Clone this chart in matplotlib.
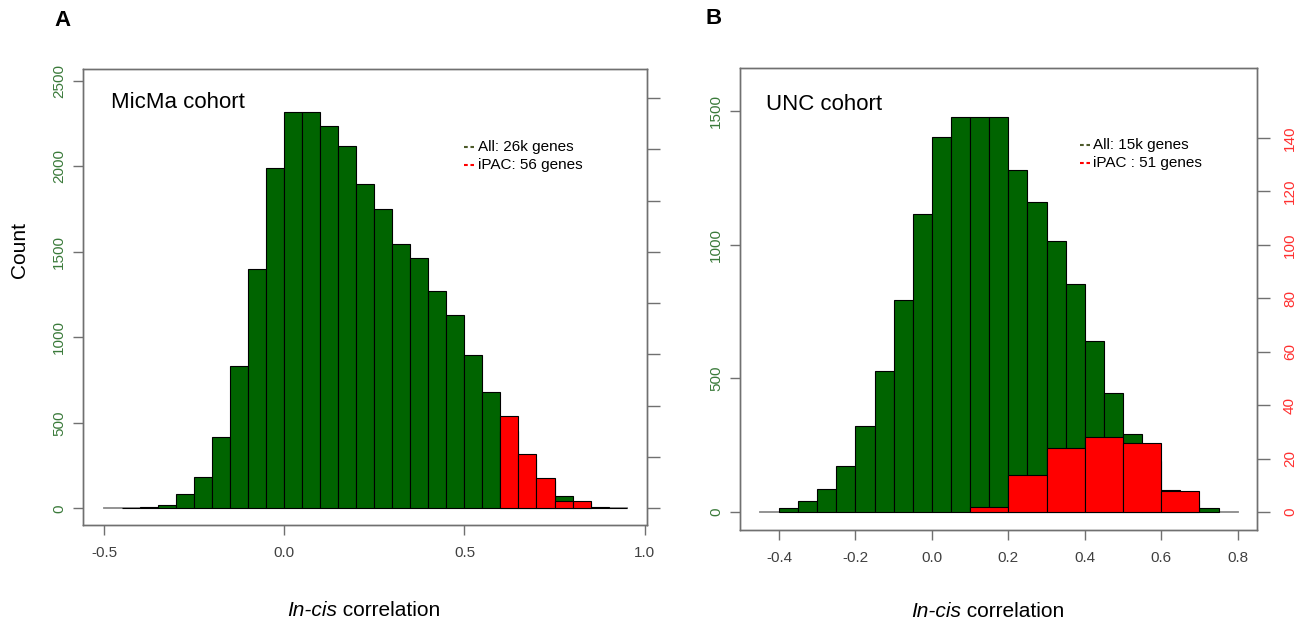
import numpy as np
import matplotlib
matplotlib.use('Agg')
import matplotlib.pyplot as plt
from matplotlib.lines import Line2D

plt.rcParams['font.family'] = ['Liberation Sans', 'DejaVu Sans']
plt.rcParams['axes.unicode_minus'] = False

# ---- panel A: MicMa cohort (bins of 0.05) ----
micma_edges = [-0.50, -0.45, -0.40, -0.35, -0.30, -0.25, -0.20, -0.15, -0.10, -0.05,
               0.00, 0.05, 0.10, 0.15, 0.20, 0.25, 0.30, 0.35, 0.40, 0.45,
               0.50, 0.55, 0.60, 0.65, 0.70, 0.75, 0.80, 0.85, 0.90, 0.95]
micma_all = [0, 3, 5, 21, 84, 183, 416, 831, 1401, 1990,
             2319, 2319, 2239, 2119, 1899, 1751, 1547, 1463, 1274, 1128,
             899, 678, 450, 290, 160, 72, 30, 8, 3]
micma_ipac_edges = [0.60, 0.65, 0.70, 0.75, 0.80, 0.85]
micma_ipac = [27, 16, 9, 2, 2]

# ---- panel B: UNC cohort ----
unc_edges = [-0.45, -0.40, -0.35, -0.30, -0.25, -0.20, -0.15, -0.10, -0.05, 0.00,
             0.05, 0.10, 0.15, 0.20, 0.25, 0.30, 0.35, 0.40, 0.45, 0.50,
             0.55, 0.60, 0.65, 0.70, 0.75, 0.80]
unc_all = [0, 15, 40, 86, 172, 323, 528, 793, 1117, 1405,
           1477, 1477, 1477, 1280, 1160, 1015, 855, 640, 445, 291,
           190, 81, 45, 15, 0]
unc_ipac_edges = [0.1, 0.2, 0.3, 0.4, 0.5, 0.6, 0.7]
unc_ipac = [2, 14, 24, 28, 26, 8]

micma_xticks = [-0.5, 0.0, 0.5, 1.0]
micma_xlabels = ['-0.5', '0.0', '0.5', '1.0']
micma_yticks = [0, 500, 1000, 1500, 2000, 2500]
micma_y2ticks = [0, 15, 30, 45, 60, 75, 90, 105, 120]

unc_xticks = [-0.4, -0.2, 0.0, 0.2, 0.4, 0.6, 0.8]
unc_xlabels = ['-0.4', '-0.2', '0.0', '0.2', '0.4', '0.6', '0.8']
unc_yticks = [0, 500, 1000, 1500]
unc_y2ticks = [0, 20, 40, 60, 80, 100, 120, 140]

GREEN = '#006400'
RED = '#ff0000'
GREY = '#707070'
W, H = 1302, 624

fig = plt.figure(figsize=(W / 100, H / 100), dpi=100)


def px_axes(x0, y0, x1, y1):
    return fig.add_axes([x0 / W, 1 - y1 / H, (x1 - x0) / W, (y1 - y0) / H])


def hist_panel(ax, edges, counts, red_edges, red_counts, xlim, ylim, scale,
               xticks, xlabels, yticks, y2ticks, show_y2labels, y2pad):
    edges = np.array(edges)
    counts = np.array(counts)
    ax.plot([edges[0], edges[-1]], [0, 0], color='#8a8a8a', lw=1.3, zorder=0.5)
    keep = counts > 0
    ax.bar(edges[:-1][keep], counts[keep], width=np.diff(edges)[keep], align='edge',
           color=GREEN, edgecolor='black', linewidth=0.8, zorder=1)
    ax.set_xlim(xlim)
    ax.set_ylim(ylim)
    ax.set_xticks(xticks)
    ax.set_xticklabels(xlabels)
    ax.set_yticks(yticks)
    ax.tick_params(axis='x', length=7, width=1, color=GREY, labelcolor='#404040',
                   labelsize=11, pad=8)
    ax.tick_params(axis='y', length=7, width=1, color=GREY, labelcolor='#3a7a3a',
                   labelsize=11, pad=5, labelrotation=90)
    for lab in ax.get_yticklabels():
        lab.set_va('center')

    ax2 = ax.twinx()
    ax2.bar(red_edges[:-1], red_counts, width=np.diff(red_edges), align='edge',
            color=RED, edgecolor='black', linewidth=0.8)
    ax2.set_ylim(ylim[0] / scale, ylim[1] / scale)
    ax2.set_yticks(y2ticks)
    ax2.tick_params(axis='y', length=9, width=1, color=GREY, labelcolor='#ff3030',
                    labelsize=11, pad=y2pad, labelrotation=90,
                    labelright=show_y2labels)
    for lab in ax2.get_yticklabels():
        lab.set_va('center')
    for a in (ax, ax2):
        for sp in a.spines.values():
            sp.set_color(GREY)
            sp.set_linewidth(1)
    return ax2


ax_a = px_axes(82.7, 69.3, 646.7, 525)
hist_panel(ax_a, micma_edges, micma_all, micma_ipac_edges, micma_ipac,
           (-0.56, 1.006), (-97.7, 2568), 20,
           micma_xticks, micma_xlabels, micma_yticks, micma_y2ticks, False, 6)

ax_b = px_axes(740, 68.3, 1256.7, 530)
hist_panel(ax_b, unc_edges, unc_all, unc_ipac_edges, unc_ipac,
           (-0.502, 0.8497), (-67.4, 1661), 10,
           unc_xticks, unc_xlabels, unc_yticks, unc_y2ticks, True, 10)


def ftext(x, y, s, **kw):
    return fig.text(x / W, 1 - y / H, s, **kw)


ftext(62.8, 20.7, 'A', fontsize=16, fontweight='bold', ha='center', va='center')
ftext(713.5, 19, 'B', fontsize=16, fontweight='bold', ha='center', va='center')
ftext(19, 250, 'Count', fontsize=15, rotation=90, ha='center', va='center')

ftext(110.8, 102.7, 'MicMa cohort', fontsize=16, va='center')
ftext(766.2, 104, 'UNC cohort', fontsize=16, va='center')

legend_a = [('All: 26k genes', '#4d5a2a'), ('iPAC: 56 genes', RED)]
legend_b = [('All: 15k genes', '#4d5a2a'), ('iPAC : 51 genes', RED)]
for (x_dash, x_txt, ys, items) in [(463.5, 478, (146.7, 165), legend_a),
                                   (1079.5, 1093, (145, 163.3), legend_b)]:
    for y, (label, col) in zip(ys, items):
        fig.add_artist(Line2D([x_dash / W, (x_dash + 10) / W], [1 - y / H, 1 - y / H],
                              color=col, lw=1.5, linestyle=(0, (1.8, 1.3))))
        ftext(x_txt, y, label, color='black', fontsize=11, va='center')

# x labels: italic "In-cis" followed by " correlation"
fig.canvas.draw()
renderer = fig.canvas.get_renderer()
for cx, cy in [(363.5, 610), (988, 611.7)]:
    t1 = ftext(0, cy, 'In-cis', fontsize=15, style='italic', va='center')
    t2 = ftext(0, cy, ' correlation', fontsize=15, va='center')
    w1 = t1.get_window_extent(renderer).width
    w2 = t2.get_window_extent(renderer).width
    x0 = cx - (w1 + w2) / 2
    t1.set_x(x0 / W)
    t2.set_x((x0 + w1) / W)

fig.savefig('out.png', dpi=100)
